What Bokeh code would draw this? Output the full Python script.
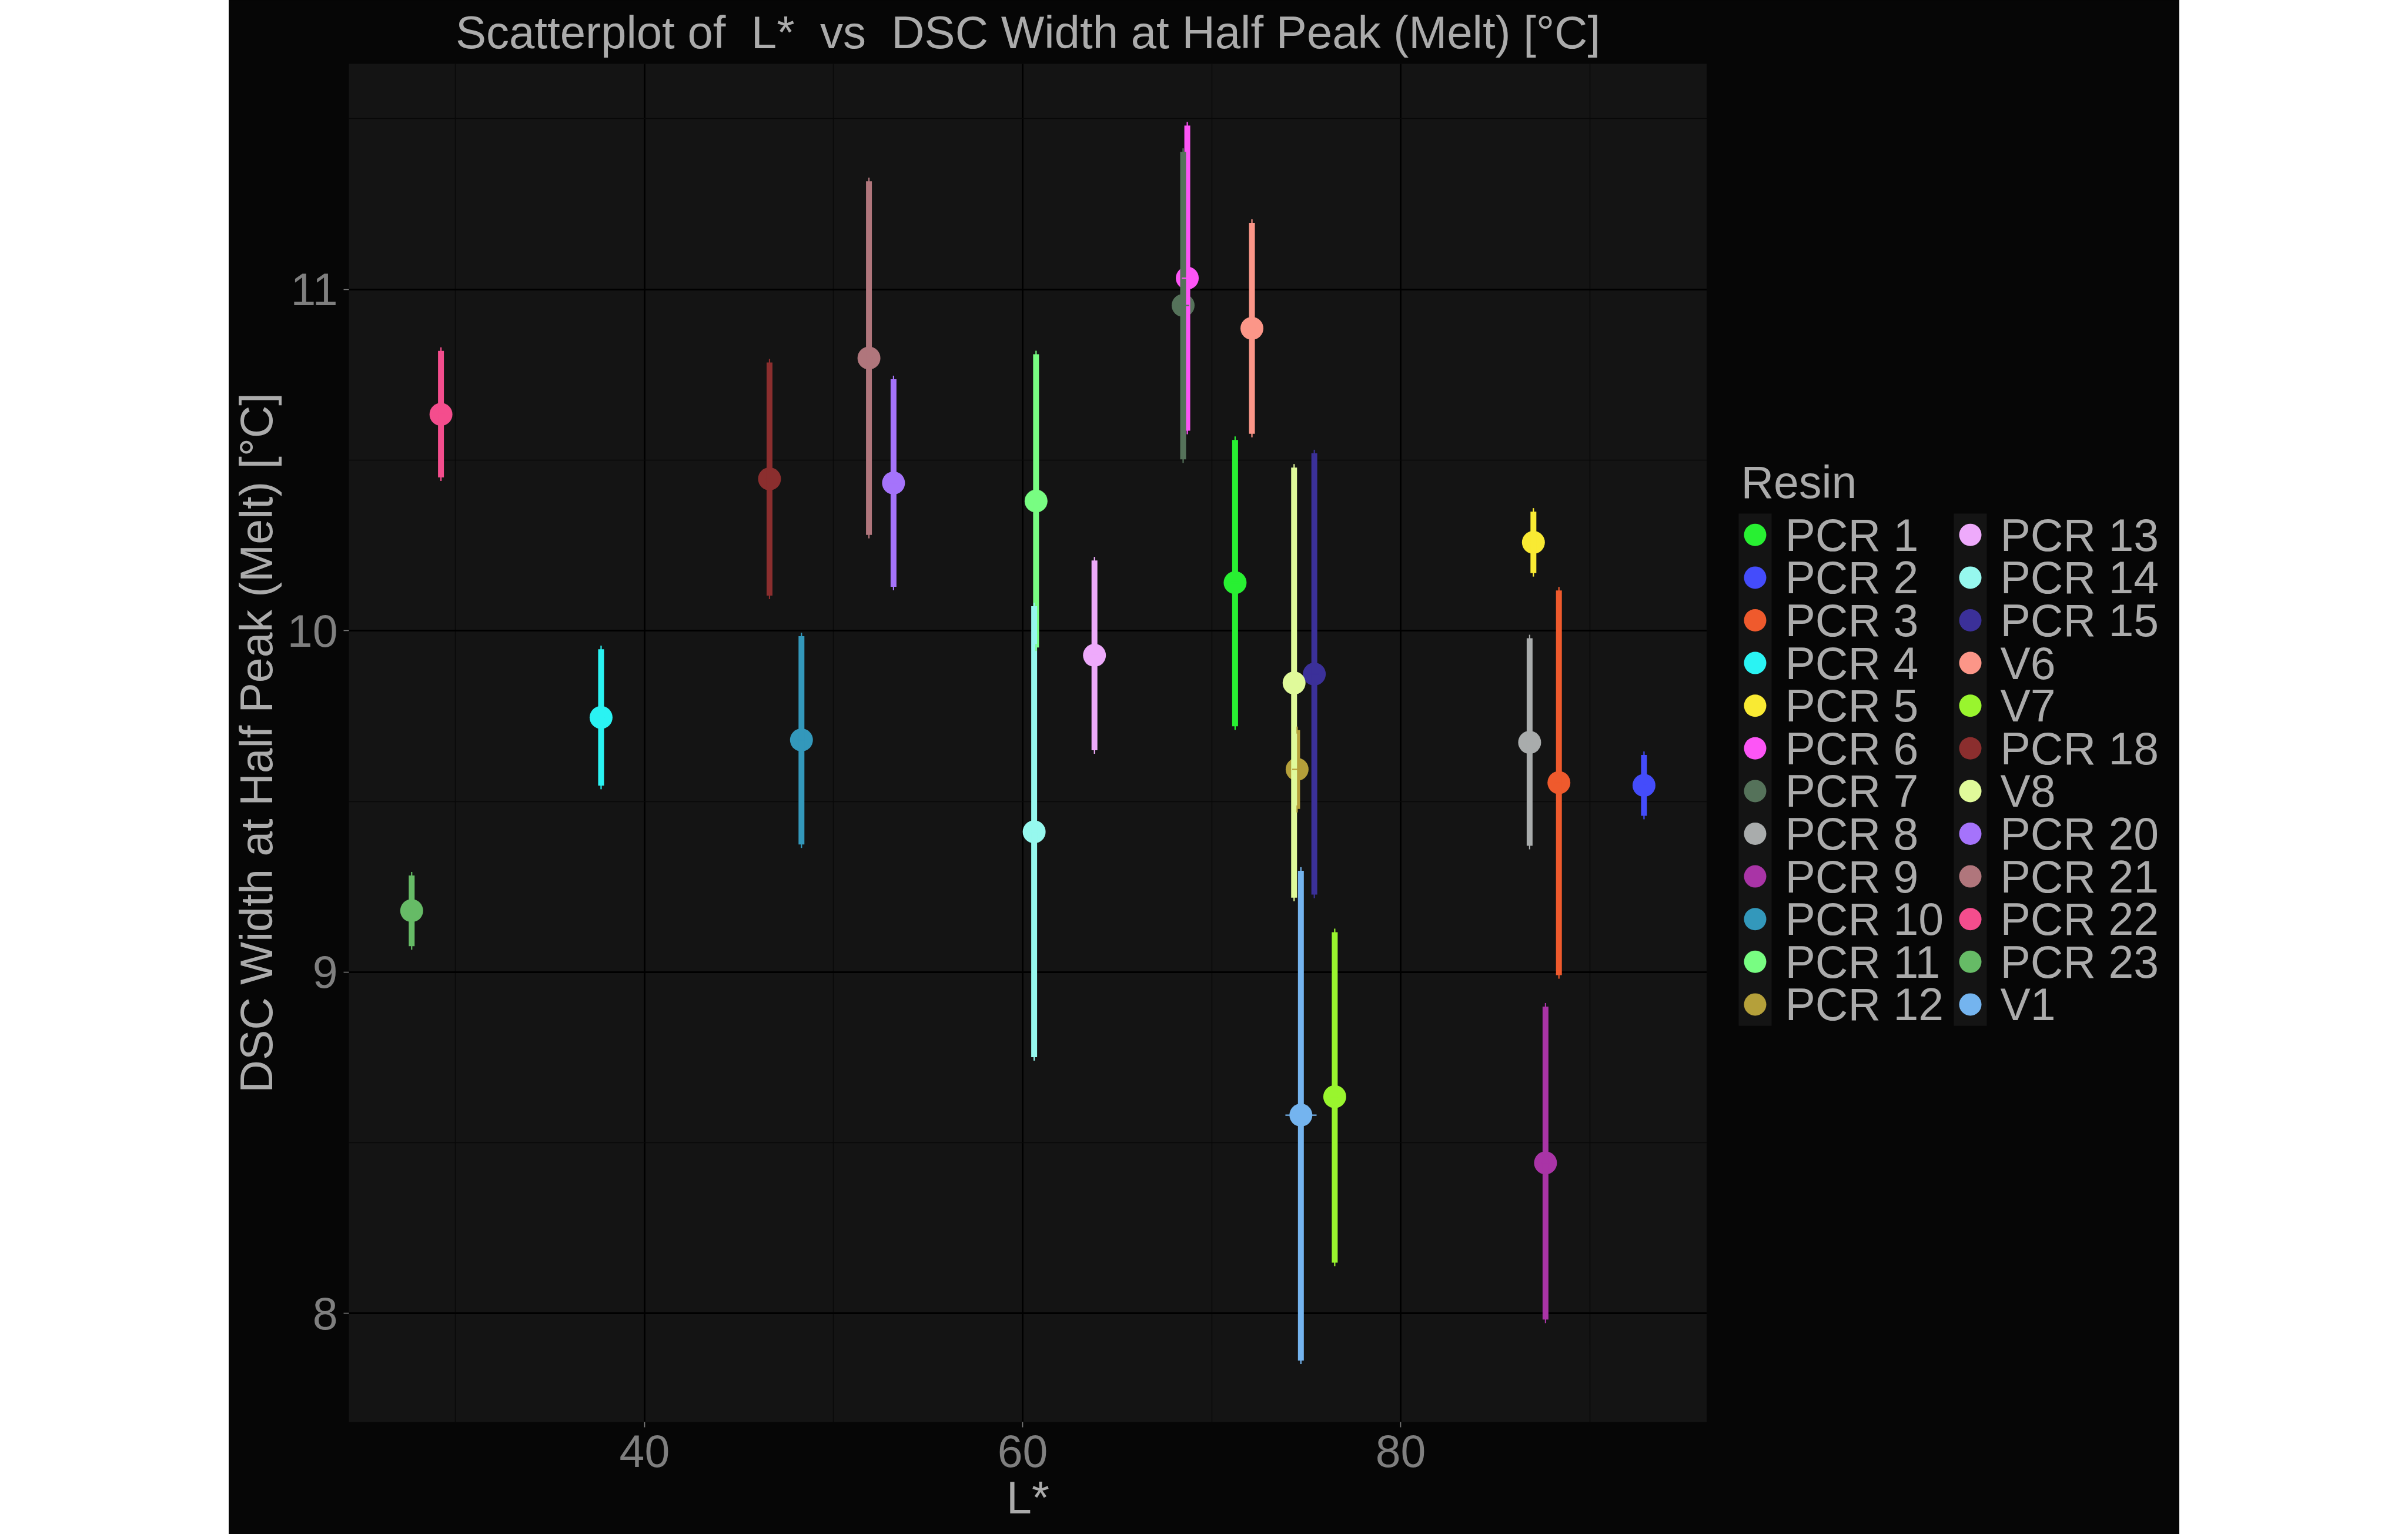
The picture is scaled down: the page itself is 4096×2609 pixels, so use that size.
import math
from bokeh.plotting import figure
from bokeh.models import ColumnDataSource, Range1d, FixedTicker, Spacer
from bokeh.core.properties import value
from bokeh.layouts import row
from bokeh.embed import file_html
from bokeh.resources import INLINE

# ---------------- data ----------------
resin = ["PCR 1", "PCR 2", "PCR 3", "PCR 4", "PCR 5", "PCR 6", "PCR 7", "PCR 8",
         "PCR 9", "PCR 10", "PCR 11", "PCR 12", "PCR 13", "PCR 14", "PCR 15", "V6",
         "V7", "PCR 18", "V8", "PCR 20", "PCR 21", "PCR 22", "PCR 23", "V1"]
colors = ["#28f032", "#444cfb", "#ef5a2d", "#2af3f3", "#f9ea33", "#fd55f6", "#55725a", "#a9acac",
          "#a934a6", "#3398bb", "#78fd82", "#b5a03a", "#eeaafb", "#96f8ee", "#3b3099", "#fc9688",
          "#99f52e", "#8b2e2e", "#e0fa9a", "#a573fb", "#b0767c", "#f44d8d", "#66bb66", "#74b4ef"]
l_star = [71.24, 92.87, 88.37, 37.70, 87.02, 68.71, 68.49, 86.82,
          87.66, 48.30, 60.71, 74.52, 63.80, 60.61, 75.43, 72.13,
          76.51, 46.61, 74.36, 53.17, 51.87, 29.23, 27.68, 74.72]
l_star_lo = [71.02, 92.81, 88.15, 37.52, 86.85, 68.42, 68.17, 86.60,
             87.45, 48.10, 60.50, 74.26, 63.62, 60.40, 75.20, 71.95,
             76.30, 46.40, 74.15, 53.00, 51.66, 29.05, 27.63, 73.90]
l_star_hi = [71.46, 92.93, 88.59, 37.88, 87.19, 69.00, 68.81, 87.04,
             87.87, 48.50, 60.92, 74.78, 63.98, 60.82, 75.66, 72.31,
             76.72, 46.82, 74.57, 53.34, 52.08, 29.41, 27.73, 75.55]
dsc_width = [10.141, 9.547, 9.555, 9.746, 10.259, 11.033, 10.953, 9.673,
             8.441, 9.680, 10.380, 9.594, 9.928, 9.411, 9.873, 10.886,
             8.635, 10.445, 9.847, 10.433, 10.799, 10.634, 9.180, 8.581]
dsc_lo = [9.720, 9.458, 8.991, 9.546, 10.169, 10.586, 10.502, 9.370,
          7.982, 9.374, 9.951, 9.478, 9.650, 8.751, 9.227, 10.577,
          8.149, 10.103, 9.218, 10.129, 10.281, 10.449, 9.076, 7.862]
dsc_hi = [10.559, 9.636, 10.118, 9.946, 10.349, 11.480, 11.403, 9.978,
          8.899, 9.984, 10.810, 9.709, 10.206, 10.072, 10.520, 11.195,
          9.117, 10.786, 10.478, 10.737, 11.317, 10.820, 9.283, 9.297]
x_ticks = [40, 60, 80]
x_minor = [30, 50, 70, 90]
y_ticks = [8, 9, 10, 11]
y_minor = [7.5, 8.5, 9.5, 10.5, 11.5]

FONT = "Liberation Sans"
TXT = "#ababab"
TICK_TXT = "#7f7f7f"
BG = "#060606"
PANEL = "#141414"

FRAME_TOP, FRAME_W, FRAME_H = 108, 2310, 2310

src = ColumnDataSource(dict(resin=resin, color=colors, x=l_star, xlo=l_star_lo, xhi=l_star_hi,
                            y=dsc_width, ylo=dsc_lo, yhi=dsc_hi))

p = figure(frame_width=FRAME_W, frame_height=FRAME_H,
           x_range=Range1d(24.36, 96.2), y_range=Range1d(7.682, 11.661),
           output_backend="svg", toolbar_location=None,
           min_border_left=201, min_border_right=0, min_border_top=FRAME_TOP,
           min_border_bottom=191)

p.background_fill_color = PANEL
p.border_fill_color = BG
p.outline_line_color = None

# double spaces kept visible with a no-break space
p.title.text = "Scatterplot of \u00a0L* \u00a0vs \u00a0DSC Width at Half Peak (Melt) [°C]"
p.title.text_font = FONT
p.title.text_font_size = "78px"
p.title.text_font_style = "normal"
p.title.text_color = TXT
p.title.align = "center"
p.title.vertical_align = "top"
p.title.standoff = 16

p.xaxis.ticker = FixedTicker(ticks=x_ticks, minor_ticks=x_minor)
p.yaxis.ticker = FixedTicker(ticks=y_ticks, minor_ticks=y_minor)
p.xaxis.axis_label = "L*"
p.yaxis.axis_label = "DSC Width at Half Peak (Melt) [°C]"
for ax in (p.xaxis, p.yaxis):
    ax.axis_line_color = None
    ax.major_tick_line_color = TICK_TXT
    ax.major_tick_line_width = 1.6
    ax.major_tick_out = 9
    ax.major_tick_in = 0
    ax.minor_tick_line_color = None
    ax.major_label_text_font = FONT
    ax.major_label_text_font_size = "77px"
    ax.major_label_text_color = TICK_TXT
    ax.axis_label_text_font = FONT
    ax.axis_label_text_font_size = "77px"
    ax.axis_label_text_font_style = "normal"
    ax.axis_label_text_color = TXT
p.yaxis.major_label_standoff = 10
p.yaxis.axis_label_standoff = 7
p.xaxis.major_label_standoff = 13
p.xaxis.axis_label_standoff = 6

for g in (p.xgrid, p.ygrid):
    g.grid_line_color = "#000000"
    g.grid_line_width = 2.8
    g.minor_grid_line_color = "#080808"
    g.minor_grid_line_width = 1.4

# points first, then ranges, then thin caps and horizontal error bars
p.ellipse(x="x", y="y", width=39, height=39, width_units="screen", height_units="screen",
          fill_color="color", line_color=None, source=src)
p.segment(x0="x", y0="ylo", x1="x", y1="yhi", line_color="color", line_width=10, source=src)
p.scatter(x="x", y="ylo", marker="dash", angle=math.pi / 2, size=12, line_color="color",
          line_width=2.2, source=src)
p.scatter(x="x", y="yhi", marker="dash", angle=math.pi / 2, size=12, line_color="color",
          line_width=2.2, source=src)
p.segment(x0="xlo", y0="y", x1="xhi", y1="y", line_color="color", line_width=2.2, source=src)

# ---------------- legend panel (two columns of 12 keys) ----------------
# its frame is aligned with the main frame; y is in page pixels (downwards)
LEG_W = 804
LEG_ROWS = 12
ROW_TOP, ROW_PITCH = 873, 72.6
COL_LEFT = [54, 420]
KEY_W = 56

lg = figure(frame_width=LEG_W, frame_height=FRAME_H,
            x_range=Range1d(0, LEG_W), y_range=Range1d(FRAME_TOP + FRAME_H, FRAME_TOP),
            output_backend="svg", toolbar_location=None, x_axis_type=None, y_axis_type=None,
            min_border_left=0, min_border_right=0, min_border_top=FRAME_TOP,
            min_border_bottom=191)
lg.grid.visible = False
lg.background_fill_color = BG
lg.border_fill_color = BG
lg.outline_line_color = None

n = len(resin)
col_of = [i // LEG_ROWS for i in range(n)]
row_of = [i % LEG_ROWS for i in range(n)]
leg_src = ColumnDataSource(dict(
    label=resin, color=colors,
    kx=[COL_LEFT[c] + KEY_W / 2 for c in col_of],
    ky=[ROW_TOP + ROW_PITCH * (r + 0.5) for r in row_of],
    tx=[COL_LEFT[c] + 79 for c in col_of]))

lg.quad(left=[c for c in COL_LEFT], right=[c + KEY_W for c in COL_LEFT],
        top=[ROW_TOP] * 2, bottom=[ROW_TOP + ROW_PITCH * LEG_ROWS] * 2,
        fill_color=PANEL, line_color=None)
lg.scatter(x="kx", y="ky", size=38, marker="circle", fill_color="color", line_color=None,
           source=leg_src)
lg.text(x="tx", y="ky", text="label", text_font=value(FONT), text_font_size="77px",
        text_color=TXT, text_baseline="middle", text_align="left", source=leg_src)
lg.text(x=[58], y=[819], text=["Resin"], text_font=value(FONT), text_font_size="77px",
        text_color=TXT, text_baseline="middle", text_align="left")

inner = row(p, lg, styles={"background-color": BG})
page = row(Spacer(width=389, height=2609), inner)
open("out.html", "w").write(file_html(page, INLINE))
